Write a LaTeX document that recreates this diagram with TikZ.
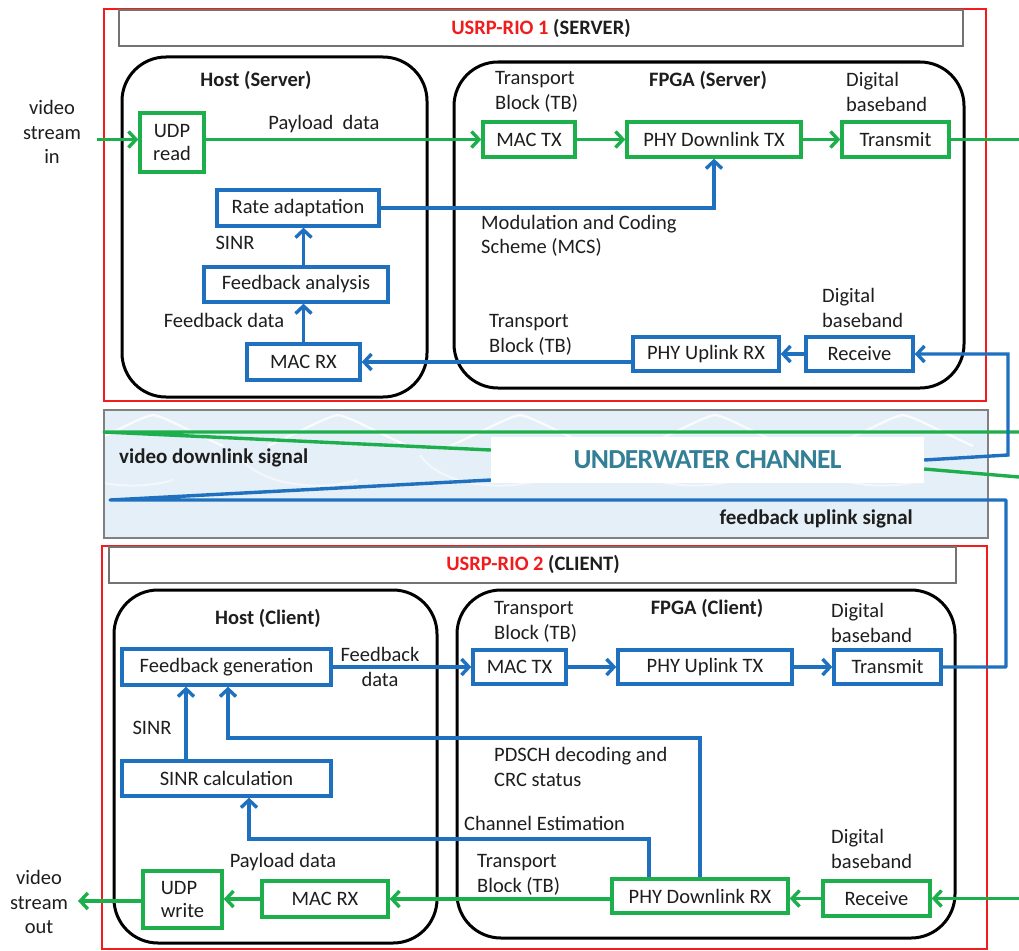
\documentclass[tikz,border=0pt]{standalone}
\usepackage{fontspec}
\setmainfont{Carlito}
\usetikzlibrary{arrows.meta,calc}
\definecolor{gr}{HTML}{1DAF4B}
\definecolor{bl}{HTML}{1F70BF}
\definecolor{rd}{HTML}{F21C1C}
\definecolor{uwteal}{HTML}{337F95}
\definecolor{uwfill}{HTML}{E5EFF8}
\definecolor{txt}{HTML}{1E1E1E}
\newcommand\fs{\fontsize{20.5}{24.5}\selectfont}
\tikzset{
  box/.style={line width=3.4pt, fill=white, inner sep=0pt, font=\fs, text=txt},
  gbox/.style={box, draw=gr},
  bbox/.style={box, draw=bl},
  tip/.style={-{Straight Barb[length=7.5pt,width=16pt]}},
  gline/.style={draw=gr, line width=3.4pt},
  bline/.style={draw=bl, line width=3.4pt},
  garrow/.style={gline, tip},
  barrow/.style={bline, tip},
  lbl/.style={font=\fs, inner sep=0pt, text=txt},
  ttl/.style={font=\fs\bfseries, inner sep=0pt, text=txt},
  host/.style={draw=black, line width=3pt, rounded corners=44pt},
  redbox/.style={draw=rd, line width=2.6pt},
  titlebox/.style={draw=black!55, line width=2.2pt, fill=white},
}
\begin{document}
\begin{tikzpicture}[x=1pt,y=-1pt]
\useasboundingbox (0,0) rectangle (1019,950);
\fill[white] (0,0) rectangle (1019,950);

% ---------------- SERVER -----------------
\draw[redbox] (104,9) rectangle (986,401);
\draw[titlebox] (119,10) rectangle (963,46);
\node[ttl] (t1) at (541,28) {\textcolor{rd}{USRP-RIO 1} (SERVER)};
\draw[host] (122,57) rectangle (427,397);
\draw[host] (454,62) rectangle (964,388);
\node[ttl] (hs) at (256,80) {Host (Server)};
\node[ttl] (fs) at (708,80) {FPGA (Server)};

\node[gbox, minimum width=64, minimum height=59, align=center, font=\fontsize{20.5}{23}\selectfont] (udpr) at (172,142.5) {UDP\\read};
\node[gbox, minimum width=92, minimum height=35] (mactx) at (529,139.5) {MAC TX};
\node[gbox, minimum width=174, minimum height=35] (phydl) at (714,139.5) {PHY Downlink TX};
\node[gbox, minimum width=107, minimum height=35] (tx1) at (895.5,139.5) {Transmit};
\node[bbox, minimum width=162, minimum height=36] (rate) at (298,208) {Rate adaptation};
\node[bbox, minimum width=184, minimum height=35] (fba) at (296,284.5) {Feedback analysis};
\node[bbox, minimum width=113, minimum height=36] (macrx) at (303.5,362) {MAC RX};
\node[bbox, minimum width=146, minimum height=34] (phyul) at (706,354) {PHY Uplink RX};
\node[bbox, minimum width=107, minimum height=34] (rx1) at (859.5,354) {Receive};

\node[lbl, align=center] (vin) at (52,132) {video\\stream\\in};
\node[lbl] (pl1) at (324,124) {Payload\ \ data};
\node[lbl, align=left, anchor=west] (tb1) at (495,92) {Transport\\Block (TB)};
\node[lbl, align=left, anchor=west] (db1) at (846,92) {Digital\\baseband};
\node[lbl, align=left, anchor=west] (mcs) at (481,236) {Modulation and Coding\\Scheme (MCS)};
\node[lbl] (sinr1) at (235,243) {SINR};
\node[lbl] (fbd1) at (224,320) {Feedback data};
\node[lbl, align=left, anchor=west] (tb2) at (489,335) {Transport\\Block (TB)};
\node[lbl, align=left, anchor=west] (db2) at (822,308) {Digital\\baseband};

\coordinate (vinS) at (97,139.5);
\coordinate (txout) at (1019,139.5);
\draw[garrow] (vinS) -- (vinS -| udpr.west);
\draw[garrow] (udpr.east |- mactx.west) -- (mactx.west);
\draw[garrow] (mactx.east) -- (phydl.west);
\draw[garrow] (phydl.east) -- (tx1.west);
\draw[gline] (tx1.east) -- (txout);
\draw[barrow] (rate.east) -| (phydl.south);
\draw[barrow] (macrx.north) -- (macrx.north |- fba.south);
\draw[barrow] (macrx.north |- fba.north) -- (macrx.north |- rate.south);
\draw[barrow] (phyul.west |- macrx.east) -- (macrx.east);
\draw[barrow] (rx1.west) -- (phyul.east);

% ---------------- CHANNEL -----------------
\draw[draw=black!50, line width=2.6pt, fill=uwfill] (104,410) rectangle (988,538);
\begin{scope}
\clip (105,411) rectangle (987,537);
\foreach \x in {153,338,520,715,903} {
  \draw[white, line width=2.2pt, opacity=0.8] (\x-70,446) .. controls (\x-30,428) and (\x-12,417) .. (\x,415) .. controls (\x+12,417) and (\x+30,428) .. (\x+70,446);
  \draw[white, line width=2pt, opacity=0.55] (\x-100,455) .. controls (\x-80,485) and (\x-20,492) .. (\x+20,480);
}
\end{scope}
\node[fill=white, minimum width=433, minimum height=46, inner sep=0pt, text=uwteal, font=\fontsize{27.5}{31}\selectfont\bfseries\addfontfeatures{LetterSpace=-2.5}] (uw) at (707.5,460) {UNDERWATER CHANNEL};
\node[ttl, font=\fontsize{21}{24}\selectfont\bfseries, anchor=west] (vds) at (119,458) {video downlink signal};
\node[ttl, font=\fontsize{21}{24}\selectfont\bfseries, anchor=east] (fus) at (913,519) {feedback uplink signal};

\coordinate (gR) at (1019,432);
\coordinate (gL) at (104,432);
\coordinate (gR2) at (1019,477);
\draw[gline, line join=round] (gR) -- (gL) -- ([yshift=10pt]uw.west);
\draw[gline] ([yshift=-9pt]uw.east) -- (gR2);
\coordinate (bR1) at (1008,455);
\draw[barrow] (uw.east) -- (bR1) |- (rx1.east);

% ---------------- CLIENT -----------------
\draw[redbox] (102,546) rectangle (987,949);
\draw[titlebox] (109,547) rectangle (956,583);
\node[ttl] (t2) at (533,564) {\textcolor{rd}{USRP-RIO 2} (CLIENT)};
\draw[host] (114,590) rectangle (437,943);
\draw[host] (457,590) rectangle (955,938);
\node[ttl] (hc) at (268,618) {Host (Client)};
\node[ttl] (fc) at (707,608) {FPGA (Client)};

\node[bbox, minimum width=209, minimum height=36] (fbg) at (226.5,667) {Feedback generation};
\node[bbox, minimum width=93, minimum height=34] (mactx2) at (519.5,667) {MAC TX};
\node[bbox, minimum width=174, minimum height=34] (phyultx) at (705,667) {PHY Uplink TX};
\node[bbox, minimum width=107, minimum height=34] (tx2) at (887.5,667) {Transmit};
\node[bbox, minimum width=209, minimum height=35] (sinr) at (226.5,778.5) {SINR calculation};
\node[gbox, minimum width=79, minimum height=57, align=left, font=\fontsize{20.5}{23}\selectfont] (udpw) at (182.5,899.5) {UDP\\write};
\node[gbox, minimum width=126, minimum height=36] (macrx2) at (325,899) {MAC RX};
\node[gbox, minimum width=176, minimum height=34] (phydlrx) at (700,896) {PHY Downlink RX};
\node[gbox, minimum width=107, minimum height=35] (rx2) at (876.5,898.5) {Receive};

\node[lbl, align=left, anchor=west] (tb3) at (494,622) {Transport\\Block (TB)};
\node[lbl, align=left, anchor=west] (db3) at (831,623) {Digital\\baseband};
\node[lbl, align=center] (fbd2) at (380,667) {Feedback\\data};
\node[lbl] (sinr2) at (152,728) {SINR};
\node[lbl, align=left, anchor=west] (pdsch) at (494,767) {PDSCH decoding and\\CRC status};
\node[lbl, anchor=west] (chest) at (464,823) {Channel Estimation};
\node[lbl] (pl2) at (283,862) {Payload data};
\node[lbl, align=left, anchor=west] (tb4) at (477,875) {Transport\\Block (TB)};
\node[lbl, align=left, anchor=west] (db4) at (831,849) {Digital\\baseband};
\node[lbl, align=center] (vout) at (39,902) {video\\stream\\out};

\draw[barrow] (fbg.east) -- (mactx2.west);
\draw[barrow] (mactx2.east) -- (phyultx.west);
\draw[barrow] (phyultx.east) -- (tx2.west);
\coordinate (bR2) at (1006,667);
\coordinate (bL) at (110,500);
\draw[bline, line join=round] (tx2.east) -- (bR2) |- (bL) -- ([yshift=-20pt]uw.west);

\coordinate (sa) at (186,778.5);
\draw[barrow] (sa |- sinr.north) -- (sa |- fbg.south);
\coordinate (pd) at (228,738);
\draw[barrow] (phydlrx.north) |- (pd) -- (pd |- fbg.south);
\coordinate (ce) at (249,839);
\coordinate (cs) at (649,896);
\draw[barrow] (cs |- phydlrx.north) |- (ce) -- (ce |- sinr.south);

\coordinate (gin) at (1019,898.5);
\draw[garrow] (gin) -- (rx2.east);
\draw[garrow] (rx2.west) -- (rx2.west -| phydlrx.east);
\draw[garrow] (phydlrx.west |- macrx2.east) -- (macrx2.east);
\draw[garrow] (macrx2.west) -- (macrx2.west -| udpw.east);
\coordinate (vo) at (78,901);
\draw[garrow] (udpw.west |- vo) -- (vo);
\end{tikzpicture}
\end{document}
